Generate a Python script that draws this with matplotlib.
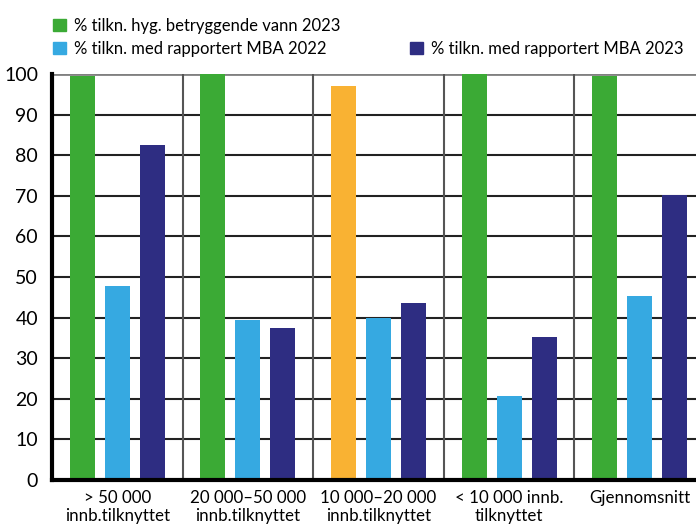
import matplotlib
matplotlib.use("Agg")
import matplotlib.pyplot as plt
from matplotlib.patches import Patch
from matplotlib.font_manager import FontProperties
import numpy as np

categories = ["> 50 000\ninnb.tilknyttet", "20 000\u201350 000\ninnb.tilknyttet",
              "10 000\u201320 000\ninnb.tilknyttet", "< 10 000 innb.\ntilknyttet",
              "Gjennomsnitt"]
hyg_vann_2023 = [99.5, 100, 97, 100, 99.5]
mba_2022 = [47.8, 39.5, 40, 20.6, 45.2]
mba_2023 = [82.5, 37.5, 43.5, 35.3, 70.2]

GREEN = "#3BAA35"
LBLUE = "#36A9E1"
NAVY = "#2E2D82"
ORANGE = "#F9B233"

plt.rcParams['font.family'] = ['Lato', 'DejaVu Sans']

fig = plt.figure(figsize=(6.96, 5.26), dpi=100)
ax = fig.add_axes([52 / 696, 46 / 526, 653 / 696, 406 / 526])

x = np.arange(len(categories))
w = 0.19
off = 0.268
first_colors = [GREEN, GREEN, ORANGE, GREEN, GREEN]
ax.bar(x - off, hyg_vann_2023, w, color=first_colors, zorder=3)
ax.bar(x, mba_2022, w, color=LBLUE, zorder=3)
ax.bar(x + off, mba_2023, w, color=NAVY, zorder=3)

ax.set_xlim(-0.5, len(categories) - 0.5)
ax.set_ylim(0, 100)
ax.set_yticks(range(0, 101, 10))
ax.tick_params(axis='y', length=0, pad=10, labelsize=14)
ax.set_xticks(x)
ax.set_xticklabels(categories, fontsize=12.2, linespacing=1.2)
ax.tick_params(axis='x', length=0, pad=7)

for yv in range(10, 100, 10):
    ax.axhline(yv, color="#222222", lw=1.5, zorder=1)
ax.axhline(100, color="#808080", lw=2, zorder=1)
for xv in np.arange(0.5, len(categories) - 0.5, 1):
    ax.axvline(xv, color="#555555", lw=1.5, zorder=1)

for s in ["top", "right"]:
    ax.spines[s].set_visible(False)
ax.spines["left"].set_linewidth(3)
ax.spines["bottom"].set_linewidth(3)
ax.spines["left"].set_zorder(4)
ax.spines["bottom"].set_zorder(4)

handles = [Patch(color=GREEN), Patch(color=LBLUE), Patch(visible=False), Patch(color=NAVY)]
labels = ["% tilkn. hyg. betryggende vann 2023", "% tilkn. med rapportert MBA 2022",
          "", "% tilkn. med rapportert MBA 2023"]
leg_font = FontProperties(family=['Liberation Sans Narrow', 'Lato'], size=12)
fig.legend(handles, labels, ncol=2, loc="upper left", bbox_to_anchor=(0.055, 0.995),
           frameon=False, prop=leg_font, handlelength=0.75, handleheight=0.75,
           handletextpad=0.5, columnspacing=4.2, labelspacing=0.45)

fig.savefig("out.png", dpi=100)
